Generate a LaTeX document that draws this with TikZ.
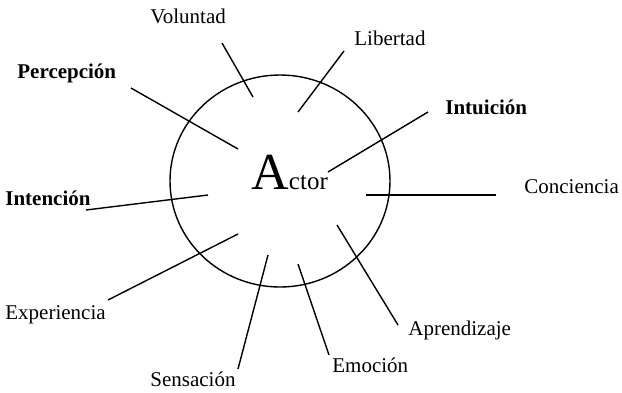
\documentclass[tikz,border=0pt]{standalone}
\usepackage{fontspec}
\setmainfont{Liberation Serif}
\begin{document}
\begin{tikzpicture}[x=0.5pt,y=-0.5pt,
  lbl/.style={anchor=base west,inner sep=0pt,font=\fontsize{10.5}{12}\selectfont},
  blbl/.style={lbl,font=\fontsize{10.5}{12}\selectfont\bfseries},
  ray/.style={line width=0.7pt}]
\useasboundingbox (0,0) rectangle (622,392);
% circle
\draw[line width=0.7pt] (280,181) ellipse [x radius=110,y radius=106];
% actor
\node[anchor=base west,inner sep=0pt] (actor) at (251,189)
  {\fontsize{26}{28}\selectfont A\fontsize{12.5}{14}\selectfont ctor};
% labels
\node[lbl]  (vol) at (150,23) {Voluntad};
\node[blbl] (per) at (17,78) {Percepción};
\node[lbl]  (lib) at (354,45) {Libertad};
\node[blbl] (intu) at (445,114) {Intuición};
\node[lbl]  (con) at (524,193) {Conciencia};
\node[blbl] (inte) at (5,205) {Intención};
\node[lbl]  (exp) at (5,319) {Experiencia};
\node[lbl]  (sen) at (150,386) {Sensación};
\node[lbl]  (emo) at (332,372) {Emoción};
\node[lbl]  (apr) at (408,335) {Aprendizaje};
% ray end points
\coordinate (v1) at (222,43);  \coordinate (v2) at (253,97);
\coordinate (p1) at (131,88);  \coordinate (p2) at (238,149);
\coordinate (l1) at (344,51);  \coordinate (l2) at (298,112);
\coordinate (i1) at (428,112); \coordinate (i2) at (328,172);
\coordinate (c1) at (366,195); \coordinate (c2) at (496,195);
\coordinate (a1) at (337,225); \coordinate (a2) at (398,325);
\coordinate (e1) at (298,264); \coordinate (e2) at (329,355);
\coordinate (s1) at (268,255); \coordinate (s2) at (238,369);
\coordinate (x1) at (238,234); \coordinate (x2) at (108,300);
\coordinate (n1) at (208,195); \coordinate (n2) at (86,210);
\foreach \a/\b in {v1/v2,p1/p2,l1/l2,i1/i2,c1/c2,a1/a2,e1/e2,s1/s2,x1/x2,n1/n2}
  \draw[ray] (\a) -- (\b);
\end{tikzpicture}
\end{document}
